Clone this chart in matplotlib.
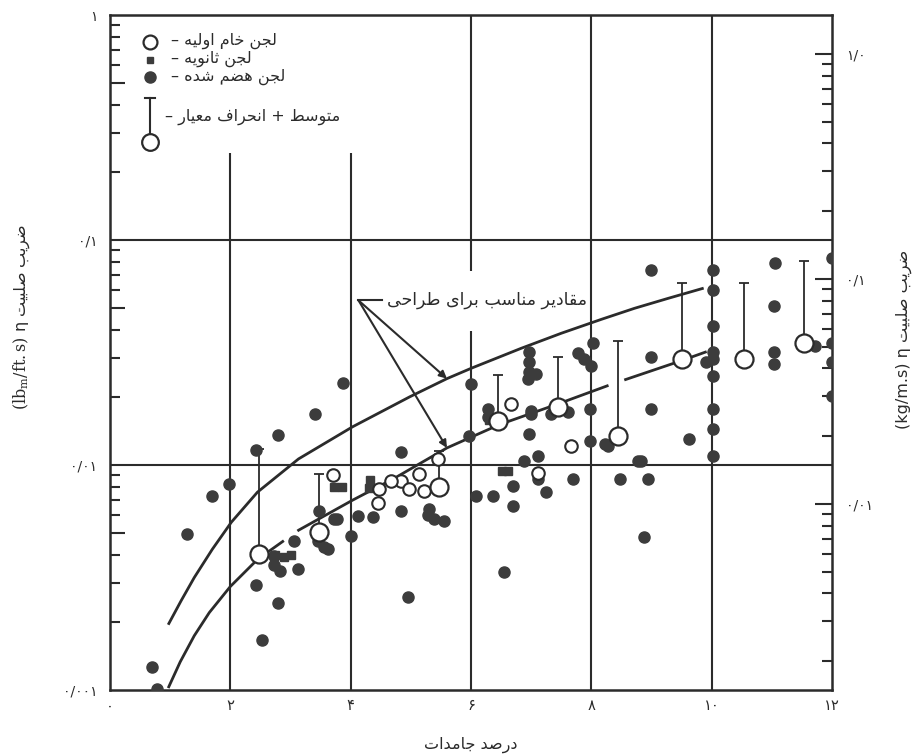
import numpy as np
import matplotlib
matplotlib.use("Agg")
import matplotlib.pyplot as plt
from matplotlib.ticker import FixedLocator, NullFormatter, NullLocator

# ---------------------------------------------------------------- data
# digested sludge (filled circles): solids %, eta (lbm/ft.s)
digested_x = [0.70, 0.78, 1.28, 1.70, 1.97, 2.42, 2.80, 3.41, 3.87,
              2.42, 2.80, 2.53, 4.00, 4.95, 6.55,
              2.72, 2.72, 2.83, 3.13, 3.05,
              3.47, 3.78, 4.12, 3.45, 3.62, 3.55, 3.72,
              4.83, 4.37, 4.83, 5.30, 5.38, 5.55, 5.28,
              6.00, 6.28, 6.28, 5.97, 7.00, 7.00, 6.97, 7.33, 7.62, 7.97,
              7.97, 8.22, 8.28, 7.12, 6.88, 6.70, 6.37, 6.08, 6.70,
              7.12, 7.25, 7.70, 8.47, 8.78,
              6.97, 6.97, 6.97, 7.08, 6.95, 7.78, 7.87, 8.00, 8.03,
              9.00, 9.00, 9.00, 9.62, 8.83, 8.95, 8.88,
              10.03, 10.03, 10.03, 10.03, 10.03, 10.03, 10.03, 10.03, 10.03, 9.90,
              11.05, 11.03, 11.03, 11.03, 11.72,
              12.00, 12.00, 12.00, 12.00]
digested_y = [0.00127, 0.00101, 0.00492, 0.00727, 0.00822, 0.01167, 0.01361, 0.0169, 0.02322,
              0.00294, 0.00244, 0.00166, 0.00482, 0.0026, 0.00333,
              0.00393, 0.00358, 0.00337, 0.00344, 0.00458,
              0.00624, 0.00574, 0.00591, 0.00458, 0.00422, 0.00434, 0.00574,
              0.01143, 0.00586, 0.00624, 0.00637, 0.00574, 0.00562, 0.0060,
              0.0230, 0.01778, 0.01637, 0.01345, 0.01742, 0.0169, 0.01374, 0.0169, 0.01726, 0.01778,
              0.01279, 0.01242, 0.01217, 0.01096, 0.01043, 0.00805, 0.00727, 0.00727, 0.00656,
              0.00866, 0.00757, 0.00866, 0.00866, 0.01043,
              0.0319, 0.0288, 0.0260, 0.02546, 0.0242, 0.0313, 0.0297, 0.02767, 0.0347,
              0.0735, 0.0303, 0.01778, 0.01306, 0.01043, 0.00866, 0.00477,
              0.0735, 0.0598, 0.0413, 0.0319, 0.0297, 0.0249, 0.01778, 0.01449, 0.01096, 0.0288,
              0.0789, 0.0507, 0.0319, 0.02825, 0.03365,
              0.0832, 0.0347, 0.0288, 0.0203]

# secondary sludge (small squares)
secondary_x = [2.75, 2.90, 3.00, 3.73, 3.85, 4.32, 4.30, 6.52, 6.62, 6.30]
secondary_y = [0.0040, 0.0039, 0.0040, 0.0080, 0.0080, 0.0086, 0.0079, 0.0094, 0.0094, 0.0158]

# raw primary sludge: mean (open circle) and mean + standard deviation
raw_x = [2.47, 3.47, 5.47, 6.45, 7.45, 8.45, 9.50, 10.53, 11.53]
raw_mean = [0.00401, 0.00502, 0.00798, 0.0157, 0.01815, 0.01345, 0.0297, 0.0297, 0.0347]
raw_top = [0.0118, 0.0091, 0.01155, 0.0252, 0.0303, 0.0354, 0.0643, 0.0643, 0.0805]

# raw primary sludge, single observations
raw_single_x = [3.70, 6.67, 7.67, 5.45, 5.13, 4.83, 4.67, 4.47, 4.45, 5.22, 4.97, 7.12]
raw_single_y = [0.0090, 0.0187, 0.0122, 0.01064, 0.0091, 0.0085, 0.0085, 0.0078, 0.0068, 0.00766, 0.0078, 0.0092]

# design curves
upper_x = [0.967, 1.183, 1.40, 1.70, 2.017, 2.45, 3.133, 4.033, 4.983, 5.60, 6.017,
           6.833, 7.50, 8.167, 8.717, 9.283, 9.867]
upper_y = [0.00195, 0.002496, 0.00316, 0.00422, 0.00557, 0.00757, 0.01064, 0.01479, 0.0201, 0.0242, 0.0270,
           0.0330, 0.0385, 0.0444, 0.0497, 0.0551, 0.0611]
lower_x = [0.967, 1.167, 1.40, 1.65, 2.00, 2.45, 3.133, 4.033, 4.733, 5.60, 6.467,
           7.45, 8.317, 9.50, 9.917]
lower_y = [0.00102, 0.001334, 0.001742, 0.002208, 0.002884, 0.003802, 0.005129, 0.00698, 0.00875, 0.01191, 0.01510,
           0.01870, 0.02275, 0.0291, 0.0319]

x_ticks = [0, 2, 4, 6, 8, 10, 12]
x_tick_labels = ["۰", "۲", "۴", "۶", "۸", "۱۰", "۱۲"]
y_ticks = [0.001, 0.01, 0.1, 1]
y_tick_labels = ["۰/۰۰۱", "۰/۰۱", "۰/۱", "۱"]
si_ticks = [0.01, 0.1, 1.0]
si_tick_labels = ["۰/۰۱", "۰/۱", "۱/۰"]
LB_TO_SI = 1.488

# ---------------------------------------------------------------- Persian shaping
_F = {
    'ا': ('\uFE8D', '\uFE8E', None, None), 'ب': ('\uFE8F', '\uFE90', '\uFE91', '\uFE92'),
    'ت': ('\uFE95', '\uFE96', '\uFE97', '\uFE98'), 'ث': ('\uFE99', '\uFE9A', '\uFE9B', '\uFE9C'),
    'ج': ('\uFE9D', '\uFE9E', '\uFE9F', '\uFEA0'), 'ح': ('\uFEA1', '\uFEA2', '\uFEA3', '\uFEA4'),
    'خ': ('\uFEA5', '\uFEA6', '\uFEA7', '\uFEA8'), 'د': ('\uFEA9', '\uFEAA', None, None),
    'ر': ('\uFEAD', '\uFEAE', None, None), 'س': ('\uFEB1', '\uFEB2', '\uFEB3', '\uFEB4'),
    'ش': ('\uFEB5', '\uFEB6', '\uFEB7', '\uFEB8'), 'ص': ('\uFEB9', '\uFEBA', '\uFEBB', '\uFEBC'),
    'ض': ('\uFEBD', '\uFEBE', '\uFEBF', '\uFEC0'), 'ط': ('\uFEC1', '\uFEC2', '\uFEC3', '\uFEC4'),
    'ع': ('\uFEC9', '\uFECA', '\uFECB', '\uFECC'), 'ف': ('\uFED1', '\uFED2', '\uFED3', '\uFED4'),
    'ق': ('\uFED5', '\uFED6', '\uFED7', '\uFED8'), 'ل': ('\uFEDD', '\uFEDE', '\uFEDF', '\uFEE0'),
    'م': ('\uFEE1', '\uFEE2', '\uFEE3', '\uFEE4'), 'ن': ('\uFEE5', '\uFEE6', '\uFEE7', '\uFEE8'),
    'ه': ('\uFEE9', '\uFEEA', '\uFEEB', '\uFEEC'), 'و': ('\uFEED', '\uFEEE', None, None),
    'ی': ('\uFEEF', '\uFEF0', '\uFEF3', '\uFEF4'),
}


def fa(text):
    """Contextual forms + visual (right-to-left) order for Persian text."""
    out = []
    for i, ch in enumerate(text):
        if ch not in _F:
            out.append(ch)
            continue
        prev = text[i - 1] if i > 0 else ''
        nxt = text[i + 1] if i + 1 < len(text) else ''
        iso, fin, ini, med = _F[ch]
        joins_prev = prev in _F and _F[prev][2] is not None
        joins_next = ini is not None and nxt in _F
        if joins_prev and joins_next:
            out.append(med)
        elif joins_prev:
            out.append(fin)
        elif joins_next:
            out.append(ini)
        else:
            out.append(iso)
    return ''.join(reversed(out))


# ---------------------------------------------------------------- figure
INK = '#2b2b2b'
DOT = '#3c3c3c'
plt.rcParams['font.family'] = ['DejaVu Sans']
plt.rcParams['mathtext.fontset'] = 'dejavuserif'
plt.rcParams['lines.scale_dashes'] = False

fig = plt.figure(figsize=(9.23, 7.54), dpi=100)
fig.patch.set_facecolor('white')
ax = fig.add_axes([0.1192, 0.0849, 0.7822, 0.8952])
ax.set_yscale('log')
ax.set_xlim(0, 12)
ax.set_ylim(1e-3, 1)

for s in ax.spines.values():
    s.set_color(INK)
    s.set_linewidth(1.8)

# grid
ax.axhline(0.1, color=INK, lw=1.5, zorder=1)
ax.axhline(0.01, color=INK, lw=1.5, zorder=1)
ax.vlines([2, 4], 1e-3, 0.244, color=INK, lw=1.5, zorder=1)
ax.vlines([6, 6], [1e-3, 0.0728], [0.0393, 1], color=INK, lw=1.5, zorder=1)
ax.vlines([8, 10], 1e-3, 1, color=INK, lw=1.5, zorder=1)

# ticks (left)
ax.xaxis.set_major_locator(FixedLocator(x_ticks))
ax.set_xticklabels(x_tick_labels, fontsize=10.5, color=INK)
ax.tick_params(axis='x', which='both', length=0, pad=6)
ax.yaxis.set_major_locator(FixedLocator(y_ticks))
ax.set_yticklabels(y_tick_labels, fontsize=10, color=INK)
minor_l = [m * d for d in (1e-3, 1e-2, 1e-1) for m in (2, 3, 4, 6, 7, 8, 9)]
ax.yaxis.set_minor_locator(FixedLocator(minor_l))
ax.yaxis.set_minor_formatter(NullFormatter())
ax.tick_params(axis='y', which='major', length=0, pad=9)
ax.tick_params(axis='y', which='minor', direction='in', length=7, width=1.5, color=INK)

left5 = ax.secondary_yaxis('left')
left5.set_yticks([5e-3, 5e-2, 5e-1])
left5.yaxis.set_major_formatter(NullFormatter())
left5.yaxis.set_minor_locator(NullLocator())
left5.tick_params(axis='y', which='major', direction='in', length=11, width=1.5, color=INK)
left5.spines['left'].set_visible(False)

# right axis in kg/m.s
sec = ax.secondary_yaxis('right', functions=(lambda v: v * LB_TO_SI, lambda v: v / LB_TO_SI))
sec.yaxis.set_major_locator(FixedLocator(si_ticks))
sec.set_yticklabels(si_tick_labels, fontsize=10, color=INK)
minor_r = [m * d for d in (1e-3, 1e-2, 1e-1) for m in (2, 3, 4, 5, 6, 7, 8, 9)]
sec.yaxis.set_minor_locator(FixedLocator(minor_r))
sec.yaxis.set_minor_formatter(NullFormatter())
sec.tick_params(axis='y', which='major', direction='in', length=12, width=1.5, color=INK, pad=10)
sec.tick_params(axis='y', which='minor', direction='in', length=7, width=1.5, color=INK)
sec.spines['right'].set_visible(False)

# design curves (lower one drawn with a few breaks)
ax.plot(upper_x, upper_y, color=INK, lw=2.0, zorder=3, solid_capstyle='butt')
ax.plot(lower_x, lower_y, color=INK, lw=2.0, zorder=3,
        linestyle=(0, (137, 12, 248, 12, 400, 10)), dash_capstyle='butt')

# raw sludge mean + std bars
ax.errorbar(raw_x, raw_mean,
            yerr=[np.zeros(len(raw_x)), np.array(raw_top) - np.array(raw_mean)],
            fmt='none', ecolor=INK, elinewidth=1.3, capsize=3.5, capthick=1.3, zorder=4)

# points
ax.plot(digested_x, digested_y, 'o', ms=8, mfc=DOT, mec=DOT, zorder=5)
ax.plot(secondary_x, secondary_y, 's', ms=6, mfc=DOT, mec=DOT, zorder=5)
ax.plot(raw_single_x, raw_single_y, 'o', ms=9, mfc='white', mec=INK, mew=1.5, zorder=6)
ax.plot(raw_x, raw_mean, 'o', ms=13, mfc='white', mec=INK, mew=1.6, zorder=6)

# annotation: suitable design values
ann_x, ann_y = 4.13, 0.0539
ax.plot([ann_x, 4.52], [ann_y, ann_y], color=INK, lw=1.5, zorder=3)
for cx, cy in ((upper_x, upper_y), (lower_x, lower_y)):
    tx = 5.60
    ty = 10 ** np.interp(tx, cx, np.log10(cy))
    ax.annotate('', xy=(tx, ty), xytext=(ann_x, ann_y),
                arrowprops=dict(arrowstyle='-|>', color=INK, lw=1.5,
                                mutation_scale=11, shrinkA=0, shrinkB=0), zorder=3)
ax.text(4.60, ann_y, fa('مقادیر مناسب برای طراحی'), fontsize=12.5, color=INK,
        ha='left', va='center', zorder=3)

# legend
T = ax.transAxes
lx = 0.0554
ax.plot([lx], [0.960], 'o', ms=10, mfc='white', mec=INK, mew=1.6, transform=T, clip_on=False)
ax.plot([lx], [0.933], 's', ms=4.5, mfc=DOT, mec=DOT, transform=T, clip_on=False)
ax.plot([lx], [0.908], 'o', ms=8, mfc=DOT, mec=DOT, transform=T, clip_on=False)
ax.plot([lx, lx], [0.815, 0.877], color=INK, lw=1.5, transform=T)
ax.plot([lx - 0.007, lx + 0.007], [0.877, 0.877], color=INK, lw=1.5, transform=T)
ax.plot([lx], [0.812], 'o', ms=12, mfc='white', mec=INK, mew=1.6, transform=T)
leg_fs = 11.5
ax.text(0.084, 0.962, '– ' + fa('لجن خام اولیه'), transform=T, fontsize=leg_fs, color=INK, va='center')
ax.text(0.084, 0.935, '– ' + fa('لجن ثانویه'), transform=T, fontsize=leg_fs, color=INK, va='center')
ax.text(0.084, 0.909, '– ' + fa('لجن هضم شده'), transform=T, fontsize=leg_fs, color=INK, va='center')
ax.text(0.076, 0.849, '– ' + fa('متوسط + انحراف معیار'), transform=T, fontsize=leg_fs, color=INK, va='center')

# axis titles
fig.text(0.51, 0.012, fa('درصد جامدات'), fontsize=11.5, color=INK, ha='center', va='center')
fig.text(0.024, 0.58, r'$(\mathrm{lb_m/ft.s})$ η ' + fa('ضریب صلبیت'), rotation=90,
         fontsize=11.5, color=INK, ha='center', va='center')
fig.text(0.979, 0.55, '(kg/m.s) η ' + fa('ضریب صلبیت'), rotation=90,
         fontsize=11.5, color=INK, ha='center', va='center')

fig.savefig('out.png', dpi=100, facecolor='white')
